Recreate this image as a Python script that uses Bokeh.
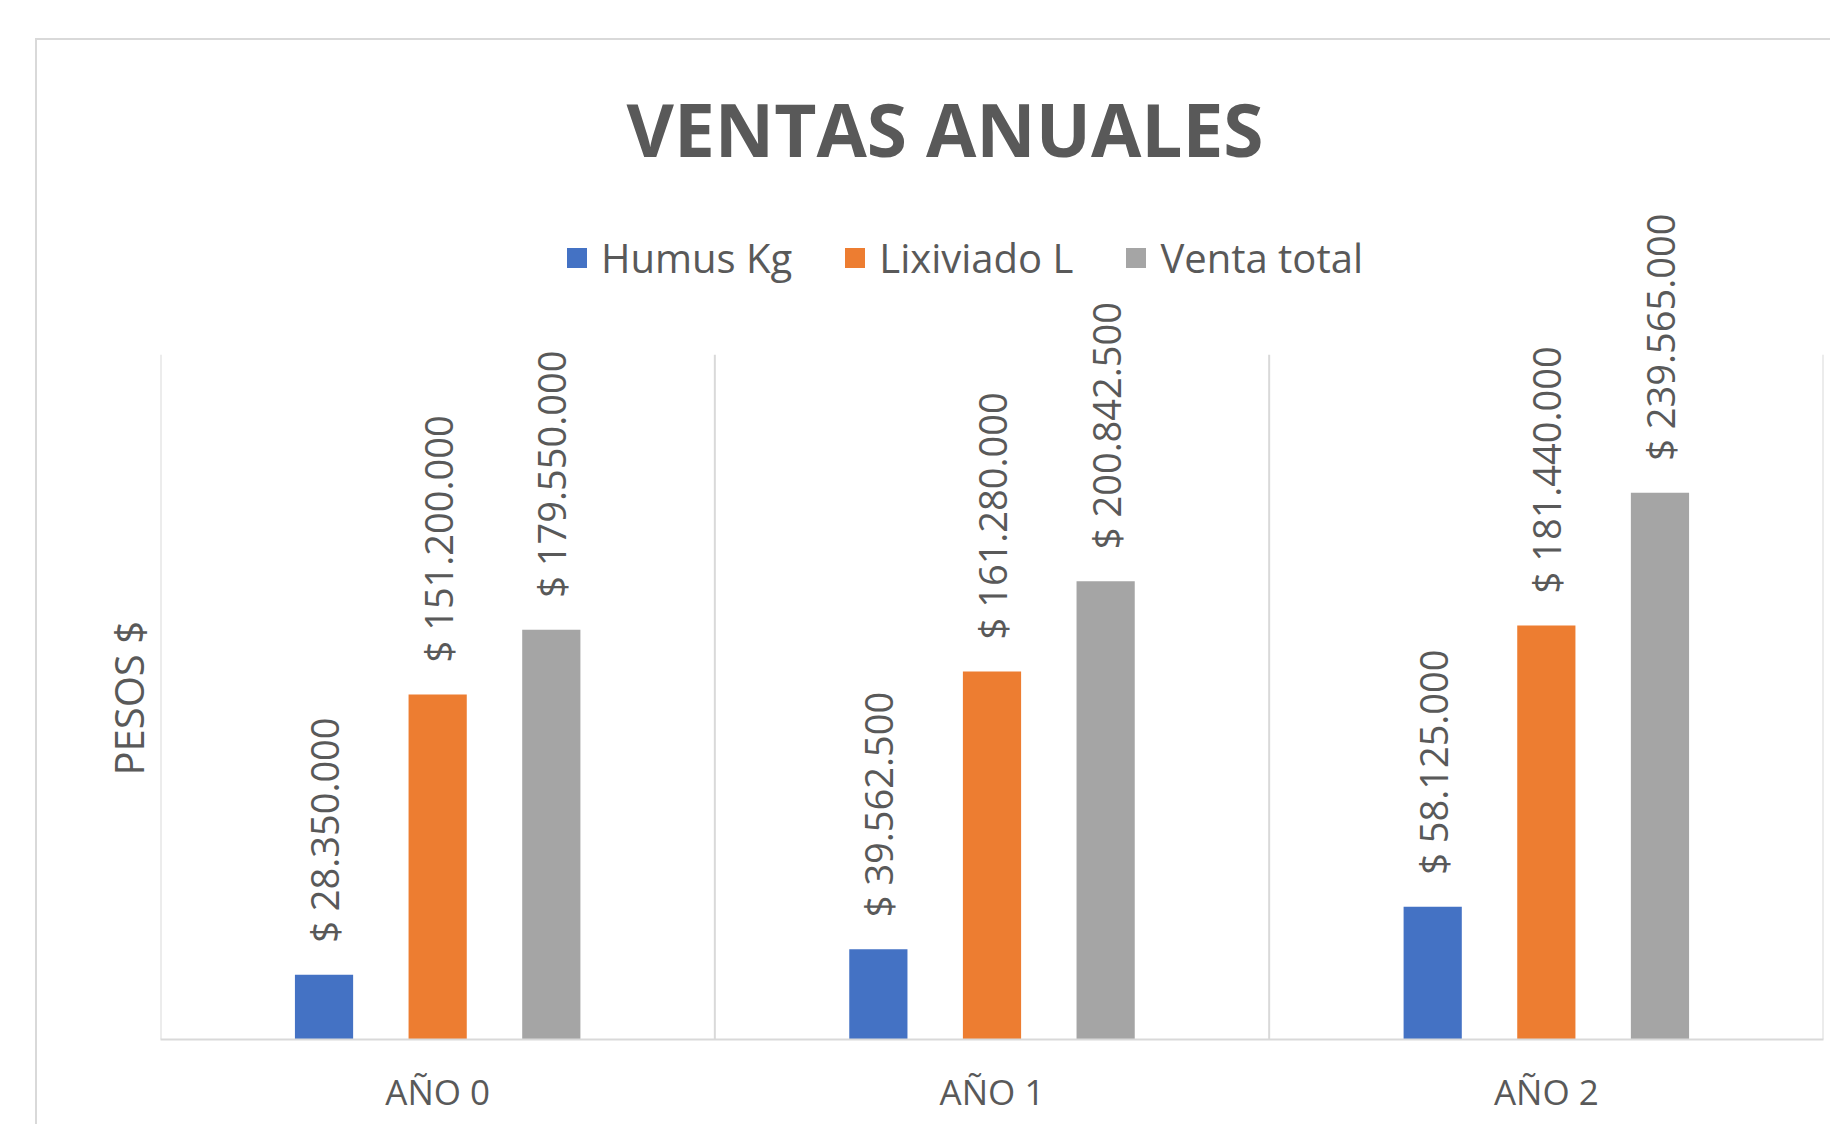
from math import pi
from bokeh.plotting import figure
from bokeh.models import (ColumnDataSource, FactorRange, Range1d, LabelSet, Title,
                          Legend, LegendItem)
from bokeh.transform import dodge
from bokeh.core.properties import value
from bokeh.embed import file_html
from bokeh.resources import INLINE

# ---- data -------------------------------------------------------------
years = ["AÑO 0", "AÑO 1", "AÑO 2"]
series_names = ["Humus Kg", "Lixiviado L", "Venta total"]
humus = [28350000, 39562500, 58125000]
lixiviado = [151200000, 161280000, 181440000]
venta_total = [179550000, 200842500, 239565000]
axis_max = 300000000
title_text = "VENTAS ANUALES"
y_label = "PESOS $"

# ---- style ------------------------------------------------------------
colors = ["#4472C4", "#ED7D31", "#A5A5A5"]
offsets = [-0.205, 0.0, 0.205]
FONT = "Open Sans"
TXT = "#595959"
LINE = "#D9D9D9"


def fmt(v):
    return "$ " + f"{v:,}".replace(",", ".")


p = figure(x_range=FactorRange(factors=years, range_padding=0),
           y_range=Range1d(0, 372e6),
           width=1795, height=1086,
           output_backend="svg", toolbar_location=None,
           min_border_left=123, min_border_right=9,
           min_border_top=150, min_border_bottom=87)
p.margin = (38, 0, 0, 35)
p.styles = {"border-top": "2px solid #D9D9D9", "border-left": "2px solid #D9D9D9"}
p.outline_line_color = None
p.xgrid.visible = False
p.ygrid.visible = False
p.background_fill_color = "white"
p.border_fill_color = "white"

# category separators (vertical gridlines between categories)
bounds = list(range(len(years) + 1))
p.segment(x0=bounds, y0=[0] * len(bounds), x1=bounds, y1=[axis_max] * len(bounds),
          line_color=LINE, line_width=2)

items = []
for name, vals, col, off in zip(series_names, [humus, lixiviado, venta_total], colors, offsets):
    src = ColumnDataSource(dict(x=years, top=vals, label=[fmt(v) for v in vals]))
    r = p.vbar(x=dodge("x", off, range=p.x_range), top="top", width=0.105,
               source=src, fill_color=col, line_color=None)
    items.append(LegendItem(label=name, renderers=[r]))
    labels = LabelSet(x=dodge("x", off, range=p.x_range), y="top", text="label",
                      angle=pi / 2, text_align="left", text_baseline="middle",
                      y_offset=32, source=src,
                      text_font=value(FONT), text_font_size=value("38px"),
                      text_color=TXT)
    p.add_layout(labels)

legend = Legend(items=items, orientation="horizontal", location=(404, 754),
                border_line_color=None, background_fill_alpha=0,
                padding=0, margin=0, spacing=50, glyph_width=25, glyph_height=25,
                label_standoff=12, label_text_font=FONT,
                label_text_font_size="40px", label_text_color=TXT)
p.add_layout(legend)

# axes
p.xaxis.axis_line_color = LINE
p.xaxis.axis_line_width = 2
p.xaxis.major_tick_line_color = None
p.xaxis.minor_tick_line_color = None
p.xaxis.major_label_text_font = FONT
p.xaxis.major_label_text_font_size = "35px"
p.xaxis.major_label_text_color = TXT
p.xaxis.major_label_standoff = 22

p.yaxis.visible = False

# y-axis title, placed along the plot area (0 .. axis_max)
p.add_layout(Title(text=y_label, align="left", offset=264, standoff=10,
                   text_font=FONT, text_font_size="40px", text_font_style="normal",
                   text_color=TXT), "left")

# title
p.title.text = title_text
p.title.align = "left"
p.title.offset = 466
p.title.text_font = FONT
p.title.text_font_style = "bold"
p.title.text_font_size = "73px"
p.title.text_color = TXT
p.title.standoff = 25

open("out.html", "w").write(file_html(p, INLINE))
